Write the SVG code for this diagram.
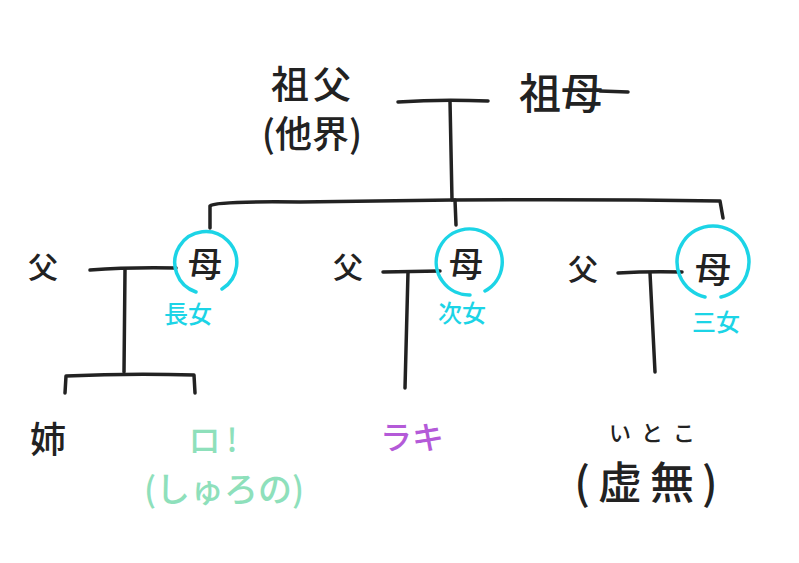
<svg xmlns="http://www.w3.org/2000/svg" width="799" height="563" viewBox="0 0 799 563">
<style>
text{font-family:"Noto Sans CJK JP","Noto Sans",sans-serif;dominant-baseline:central;text-anchor:middle;font-weight:500}
.k{fill:#222}
.c{fill:#1cd4e6}
.g{fill:#8ee0bb}
.p{fill:#b45ad8}
.ln{fill:none;stroke:#222;stroke-width:3.5;stroke-linecap:round;stroke-linejoin:round}
.ring{fill:none;stroke:#1cd4e6;stroke-width:3.5;stroke-linecap:round}
</style>
<rect width="799" height="563" fill="#fff"/>
<g id="connectors">
<path class="ln" d="M398 102 Q440 99 488 101"/>
<path class="ln" d="M450 101 L452 200"/>
<path class="ln" d="M210 228 L210 206 Q215 201 300 202 L452 200 Q600 199 720 201 L723 218"/>
<path class="ln" d="M455 200 L456 225"/>
<path class="ln" d="M90 270 Q130 267 176 268"/>
<path class="ln" d="M125 270 L124 372"/>
<path class="ln" d="M65 393 L66 376 Q130 373 194 375 L195 393"/>
<path class="ln" d="M383 272 L440 271"/>
<path class="ln" d="M408 272 L405 388"/>
<path class="ln" d="M618 273 Q650 271 682 272"/>
<path class="ln" d="M650 273 L655 372"/>
</g>
<g id="grandfather">
<text class="k" x="313" y="81" font-size="38" letter-spacing="4">祖父</text>
<text class="k" x="312" y="132" font-size="37">(他界)</text>
</g>
<g id="grandmother">
<text class="k" x="561" y="90" font-size="42">祖母</text>
<path class="ln" d="M600 91 L628 92"/>
</g>
<g id="father1"><text class="k" x="43" y="265" font-size="30">父</text></g>
<g id="mother1">
<path class="ring" d="M222 289 A31 31 0 1 0 196 292"/>
<text class="k" x="205" y="262" font-size="34">母</text>
<text class="c" x="188" y="312" font-size="24">長女</text>
</g>
<g id="father2"><text class="k" x="348" y="265" font-size="30">父</text></g>
<g id="mother2">
<path class="ring" d="M485 291 A33 33 0 1 0 470 295"/>
<text class="k" x="466" y="262" font-size="34">母</text>
<text class="c" x="462" y="311" font-size="24">次女</text>
</g>
<g id="father3"><text class="k" x="583" y="267" font-size="30">父</text></g>
<g id="mother3">
<path class="ring" d="M721 297 A36 36 0 1 0 705 297"/>
<text class="k" x="713" y="267" font-size="36">母</text>
<text class="c" x="716" y="320" font-size="24">三女</text>
</g>
<g id="sister"><text class="k" x="48" y="437" font-size="36">姉</text></g>
<g id="ro">
<text class="g" x="216" y="438" font-size="32" letter-spacing="6">ロ!</text>
<text class="g" x="224" y="487" font-size="34">(しゅろの)</text>
</g>
<g id="raki"><text class="p" x="412" y="435" font-size="32">ラキ</text></g>
<g id="cousin">
<text class="k" x="657" y="431" font-size="22" letter-spacing="10">いとこ</text>
<text class="k" x="650" y="480" font-size="44" letter-spacing="8">(虚無)</text>
</g>
</svg>
